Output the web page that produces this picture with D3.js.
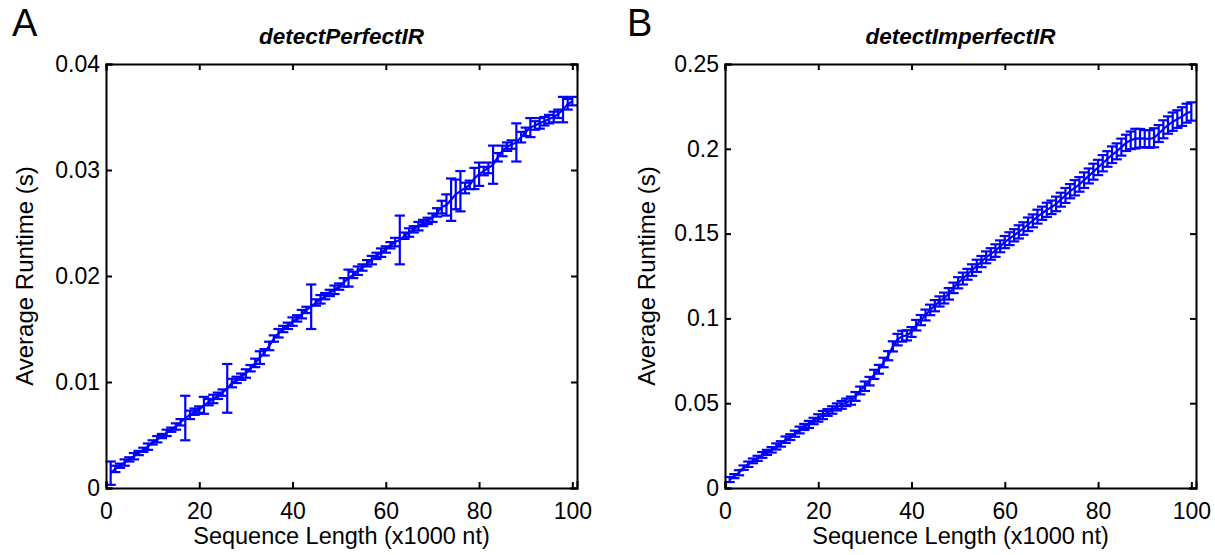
<!DOCTYPE html>
<html>
<head>
<meta charset="utf-8">
<script src="https://cdn.jsdelivr.net/npm/d3@7"></script>
<style>
  body { margin: 0; background: #fff; }
  svg text { font-family: "Liberation Sans", Arial, sans-serif; fill: #000; }
  .axis path, .axis line { stroke: #000; stroke-width: 2; }
</style>
</head>
<body>
<svg id="chart" width="1215" height="555"></svg>
<script>
// Sequence length (x1000 nt), same for both panels
const seqLength = d3.range(1, 101);

const xTicks = [0, 20, 40, 60, 80, 100];

// Panel A: detectPerfectIR
const perfectMean = [
  0.0014, 0.0018, 0.0021, 0.0024, 0.0027, 0.0030, 0.0033, 0.0036, 0.0039, 0.0043,
  0.0046, 0.0049, 0.0052, 0.0055, 0.0058, 0.0062, 0.0066, 0.0069, 0.0072, 0.0074,
  0.0078, 0.0081, 0.0084, 0.0087, 0.0090, 0.0094, 0.0099, 0.0102, 0.0105, 0.0108,
  0.0113, 0.0118, 0.0123, 0.0128, 0.0134, 0.0141, 0.0146, 0.0150, 0.0153, 0.0157,
  0.0160, 0.0164, 0.0168, 0.0171, 0.0175, 0.0178, 0.0181, 0.0184, 0.0187, 0.0190,
  0.0194, 0.0198, 0.0201, 0.0205, 0.0208, 0.0212, 0.0215, 0.0219, 0.0222, 0.0225,
  0.0229, 0.0232, 0.0234, 0.0238, 0.0241, 0.0244, 0.0247, 0.0250, 0.0252, 0.0255,
  0.0260, 0.0265, 0.0267, 0.0272, 0.0277, 0.0280, 0.0283, 0.0286, 0.0292, 0.0296,
  0.0299, 0.0302, 0.0305, 0.0312, 0.0318, 0.0322, 0.0324, 0.0326, 0.0331, 0.0336,
  0.0340, 0.0342, 0.0344, 0.0346, 0.0348, 0.0350, 0.0353, 0.0357, 0.0362, 0.0365
];
const perfectErr = [
  0.0011, 0.0003, 0.0002, 0.0003, 0.0002, 0.0003, 0.0002, 0.0002, 0.0003, 0.0002,
  0.0003, 0.0002, 0.0003, 0.0002, 0.0003, 0.0003, 0.0021, 0.0004, 0.0003, 0.0003,
  0.0008, 0.0003, 0.0004, 0.0003, 0.0003, 0.0023, 0.0004, 0.0003, 0.0003, 0.0004,
  0.0003, 0.0004, 0.0006, 0.0003, 0.0004, 0.0003, 0.0004, 0.0003, 0.0003, 0.0004,
  0.0003, 0.0004, 0.0003, 0.0021, 0.0003, 0.0004, 0.0003, 0.0003, 0.0004, 0.0003,
  0.0004, 0.0008, 0.0003, 0.0004, 0.0003, 0.0003, 0.0004, 0.0003, 0.0004, 0.0003,
  0.0003, 0.0004, 0.0023, 0.0003, 0.0004, 0.0003, 0.0004, 0.0003, 0.0003, 0.0004,
  0.0004, 0.0006, 0.0010, 0.0020, 0.0014, 0.0019, 0.0005, 0.0004, 0.0010, 0.0011,
  0.0004, 0.0005, 0.0018, 0.0004, 0.0005, 0.0004, 0.0004, 0.0018, 0.0005, 0.0004,
  0.0009, 0.0004, 0.0005, 0.0004, 0.0004, 0.0005, 0.0004, 0.0012, 0.0005, 0.0004
];
const perfectYTicks = [0, 0.01, 0.02, 0.03, 0.04];

// Panel B: detectImperfectIR
const imperfectMean = [
  0.0050, 0.0070, 0.0090, 0.0120, 0.0140, 0.0160, 0.0175, 0.0195, 0.0210, 0.0225,
  0.0245, 0.0260, 0.0285, 0.0300, 0.0320, 0.0342, 0.0360, 0.0375, 0.0395, 0.0413,
  0.0430, 0.0445, 0.0460, 0.0478, 0.0490, 0.0505, 0.0515, 0.0540, 0.0575, 0.0600,
  0.0630, 0.0670, 0.0700, 0.0740, 0.0780, 0.0835, 0.0875, 0.0895, 0.0900, 0.0920,
  0.0960, 0.0990, 0.1020, 0.1050, 0.1075, 0.1100, 0.1120, 0.1145, 0.1180, 0.1210,
  0.1235, 0.1260, 0.1285, 0.1310, 0.1335, 0.1360, 0.1380, 0.1400, 0.1425, 0.1450,
  0.1470, 0.1490, 0.1510, 0.1530, 0.1555, 0.1575, 0.1600, 0.1620, 0.1640, 0.1655,
  0.1675, 0.1700, 0.1725, 0.1750, 0.1770, 0.1790, 0.1815, 0.1840, 0.1865, 0.1890,
  0.1915, 0.1940, 0.1965, 0.1985, 0.2010, 0.2035, 0.2050, 0.2060, 0.2062, 0.2060,
  0.2058, 0.2065, 0.2090, 0.2115, 0.2140, 0.2160, 0.2175, 0.2190, 0.2210, 0.2220
];
const imperfectErr = [
  0.0015, 0.0012, 0.0015, 0.0013, 0.0016, 0.0014, 0.0015, 0.0017, 0.0015, 0.0016,
  0.0018, 0.0016, 0.0019, 0.0017, 0.0018, 0.0020, 0.0018, 0.0021, 0.0019, 0.0022,
  0.0024, 0.0020, 0.0022, 0.0021, 0.0023, 0.0022, 0.0024, 0.0026, 0.0023, 0.0028,
  0.0025, 0.0027, 0.0026, 0.0028, 0.0027, 0.0030, 0.0034, 0.0032, 0.0030, 0.0029,
  0.0031, 0.0030, 0.0032, 0.0031, 0.0033, 0.0030, 0.0032, 0.0034, 0.0031, 0.0033,
  0.0035, 0.0032, 0.0034, 0.0036, 0.0033, 0.0035, 0.0034, 0.0037, 0.0035, 0.0036,
  0.0038, 0.0036, 0.0039, 0.0037, 0.0040, 0.0038, 0.0041, 0.0039, 0.0042, 0.0040,
  0.0043, 0.0041, 0.0044, 0.0042, 0.0045, 0.0043, 0.0046, 0.0044, 0.0047, 0.0045,
  0.0048, 0.0046, 0.0049, 0.0047, 0.0050, 0.0048, 0.0052, 0.0058, 0.0055, 0.0050,
  0.0052, 0.0056, 0.0050, 0.0053, 0.0051, 0.0054, 0.0052, 0.0055, 0.0056, 0.0054
];
const imperfectYTicks = [0, 0.05, 0.1, 0.15, 0.2, 0.25];

const panels = [
  {letter: 'A', title: 'detectPerfectIR', mean: perfectMean, err: perfectErr,
   yTicks: perfectYTicks, yMax: 0.04, left: 106, letterX: 12, labelX: 33},
  {letter: 'B', title: 'detectImperfectIR', mean: imperfectMean, err: imperfectErr,
   yTicks: imperfectYTicks, yMax: 0.25, left: 725, letterX: 627, labelX: 655}
];

const svg = d3.select('#chart');
const plotTop = 64, plotH = 424, plotW = 471;
const blue = '#0000ff';

function drawPanel(p) {
  const x = d3.scaleLinear().domain([0, 101]).range([p.left, p.left + plotW]);
  const y = d3.scaleLinear().domain([0, p.yMax]).range([plotTop + plotH, plotTop]);
  const g = svg.append('g');
  const tee = 1.1; // half width of caps in x units

  const pts = seqLength.map((d, i) => ({x: d, m: p.mean[i], e: p.err[i]}));

  // line through means
  g.append('path')
    .datum(pts)
    .attr('fill', 'none')
    .attr('stroke', blue)
    .attr('stroke-width', 2.2)
    .attr('d', d3.line().x(d => x(d.x)).y(d => y(d.m)));

  // error bars
  const bars = g.append('g')
    .attr('stroke', blue)
    .attr('stroke-width', 2.2)
    .selectAll('g')
    .data(pts)
    .enter().append('g');
  bars.append('line')
    .attr('x1', d => x(d.x)).attr('x2', d => x(d.x))
    .attr('y1', d => y(d.m - d.e)).attr('y2', d => y(d.m + d.e));
  bars.append('line')
    .attr('x1', d => x(d.x - tee)).attr('x2', d => x(d.x + tee))
    .attr('y1', d => y(d.m - d.e)).attr('y2', d => y(d.m - d.e));
  bars.append('line')
    .attr('x1', d => x(d.x - tee)).attr('x2', d => x(d.x + tee))
    .attr('y1', d => y(d.m + d.e)).attr('y2', d => y(d.m + d.e));

  // axes, MATLAB style box with inward ticks
  const fmt = d => String(d);
  g.append('g')
    .attr('class', 'axis')
    .attr('transform', `translate(0,${plotTop + plotH})`)
    .call(d3.axisBottom(x).tickValues(xTicks).tickSize(-6).tickPadding(15).tickFormat(fmt))
    .call(a => a.selectAll('text').attr('font-size', 23));
  g.append('g')
    .attr('class', 'axis')
    .attr('transform', `translate(0,${plotTop})`)
    .call(d3.axisTop(x).tickValues(xTicks).tickSize(-6).tickFormat(''));
  g.append('g')
    .attr('class', 'axis')
    .attr('transform', `translate(${p.left},0)`)
    .call(d3.axisLeft(y).tickValues(p.yTicks).tickSize(-6).tickPadding(6).tickFormat(fmt))
    .call(a => a.selectAll('text').attr('font-size', 23));
  g.append('g')
    .attr('class', 'axis')
    .attr('transform', `translate(${p.left + plotW},0)`)
    .call(d3.axisRight(y).tickValues(p.yTicks).tickSize(-6).tickFormat(''));
  g.selectAll('.axis path').attr('stroke-linecap', 'square');

  // texts
  g.append('text')
    .attr('x', p.left + plotW / 2).attr('y', 44)
    .attr('text-anchor', 'middle')
    .attr('font-size', 22.5).attr('font-weight', 'bold').attr('font-style', 'italic')
    .text(p.title);
  g.append('text')
    .attr('x', p.letterX).attr('y', 36)
    .attr('font-size', 38)
    .text(p.letter);
  g.append('text')
    .attr('x', p.left + plotW / 2).attr('y', 544)
    .attr('text-anchor', 'middle')
    .attr('font-size', 23.5)
    .text('Sequence Length (x1000 nt)');
  g.append('text')
    .attr('transform', `translate(${p.labelX},${plotTop + plotH / 2}) rotate(-90)`)
    .attr('text-anchor', 'middle')
    .attr('font-size', 24)
    .text('Average Runtime (s)');
}

panels.forEach(drawPanel);
</script>
</body>
</html>
